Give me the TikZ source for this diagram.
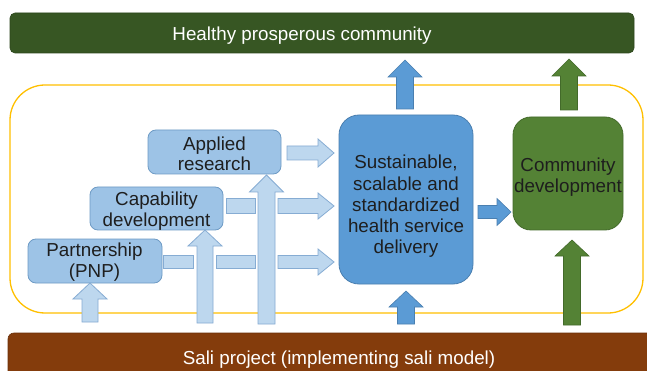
\documentclass[tikz,border=0pt]{standalone}
\usepackage{fontspec}
\setmainfont{Liberation Sans}
\definecolor{lb}{HTML}{9DC3E6}
\definecolor{lbd}{HTML}{6E9BC5}
\definecolor{la}{HTML}{BDD7EE}
\definecolor{lad}{HTML}{86ACD3}
\definecolor{mb}{HTML}{5B9BD5}
\definecolor{mbd}{HTML}{4A7FB0}
\definecolor{gr}{HTML}{548235}
\definecolor{grd}{HTML}{436A2A}
\definecolor{dg}{HTML}{375623}
\definecolor{br}{HTML}{843C0C}
\definecolor{yel}{HTML}{FFC000}
\definecolor{txt}{HTML}{1E1E1E}
\newcommand\UpArr[7]{%
  \draw[#1] (#2-#6,#5) -- (#2-#6,#4) -- (#2-#7,#4) -- (#2,#3) -- (#2+#7,#4) -- (#2+#6,#4) -- (#2+#6,#5) -- cycle;}
\newcommand\RtArr[7]{%
  \draw[#1] (#2,#5-#6) -- (#3,#5-#6) -- (#3,#5-#7) -- (#4,#5) -- (#3,#5+#7) -- (#3,#5+#6) -- (#2,#5+#6) -- cycle;}
\begin{document}
\begin{tikzpicture}[x=1pt,y=-1pt,
  txtfont/.style={font=\fontsize{18.8}{20.5}\selectfont},
  smallbox/.style={draw=lbd, fill=lb, rounded corners=8pt, line width=0.8pt, inner sep=0pt},
  boxtext/.style={align=center, text=txt, inner sep=0pt, txtfont},
  lightarr/.style={draw=lad, fill=la, line width=0.8pt},
  bluearr/.style={draw=mbd, fill=mb, line width=0.6pt},
  greenarr/.style={draw=grd, fill=gr, line width=0.6pt},
]
\useasboundingbox (0,0) rectangle (647,371);
\clip (0,0) rectangle (647,371);
\fill[white] (0,0) rectangle (647,371);
% top bar
\node[draw=dg!80!black, fill=dg, rounded corners=5pt, minimum width=624pt, minimum height=40pt, inner sep=0pt, line width=0.6pt] (top) at (322,33) {};
\node[text=white, txtfont, inner sep=0pt] (toptext) at (302,36) {Healthy prosperous community};
% yellow frame
\draw[yel, line width=1.3pt, rounded corners=35pt] (10,85) rectangle (643,313);
% bottom bar
\draw[fill=br, draw=br!80!black, rounded corners=6pt, line width=0.6pt] (8,333) rectangle (670,400);
\node[text=white, txtfont, inner sep=0pt] (bottext) at (339,359.5) {Sali project (implementing sali model)};
% boxes
\node[smallbox, minimum width=133pt, minimum height=44pt] (ar) at (214.5,152) {};
\node[boxtext] (artext) at (214.5,154) {Applied\\research};
\node[smallbox, minimum width=133pt, minimum height=43pt] (cd) at (156.5,208.5) {};
\node[boxtext] (cdtext) at (156.5,211) {Capability\\development};
\node[smallbox, minimum width=134pt, minimum height=44pt] (pnp) at (95,261) {};
\node[boxtext] (pnptext) at (94.5,262) {Partnership\\(PNP)};
\node[draw=mbd, fill=mb, rounded corners=20pt, minimum width=134pt, minimum height=169pt, line width=0.8pt, inner sep=0pt] (sus) at (406,199.5) {};
\node[align=center, text=txt, inner sep=0pt, font=\fontsize{18.8}{21.3}\selectfont] (sustext) at (406,206.5) {Sustainable,\\scalable and\\standardized\\health service\\delivery};
\node[draw=grd, fill=gr, rounded corners=18pt, minimum width=110pt, minimum height=113pt, line width=0.8pt, inner sep=0pt] (com) at (568,173.5) {};
\node[align=center, text=txt, inner sep=0pt, font=\fontsize{18.8}{21}\selectfont] (comtext) at (568,177.5) {Community\\development};
% up arrows top
\UpArr{bluearr}{405}{60}{77}{109}{8.5}{17}
\UpArr{greenarr}{569}{59}{76}{110}{8.5}{17}
% light vertical arrows
\UpArr{lightarr}{90}{283}{299}{322}{8}{17}
\UpArr{lightarr}{205}{230}{246}{323}{8}{17}
\UpArr{lightarr}{266.5}{175}{192}{324}{8.5}{17}
% bottom up arrows
\UpArr{bluearr}{406}{291}{307}{324}{8.5}{17}
\UpArr{greenarr}{572}{240}{256}{325}{8.5}{17}
% horizontal arrows
\RtArr{lightarr}{287}{318}{334}{153}{7}{14}
\draw[lightarr] (226,198) rectangle (255,213);
\RtArr{lightarr}{278}{318}{334}{206}{7.5}{13}
\draw[lightarr] (163,255) rectangle (193,268);
\draw[lightarr] (216,255) rectangle (255,268);
\RtArr{lightarr}{278}{318}{334}{262}{6.5}{13}
\RtArr{bluearr}{478}{497}{511}{212}{6.5}{13.5}
\end{tikzpicture}
\end{document}
